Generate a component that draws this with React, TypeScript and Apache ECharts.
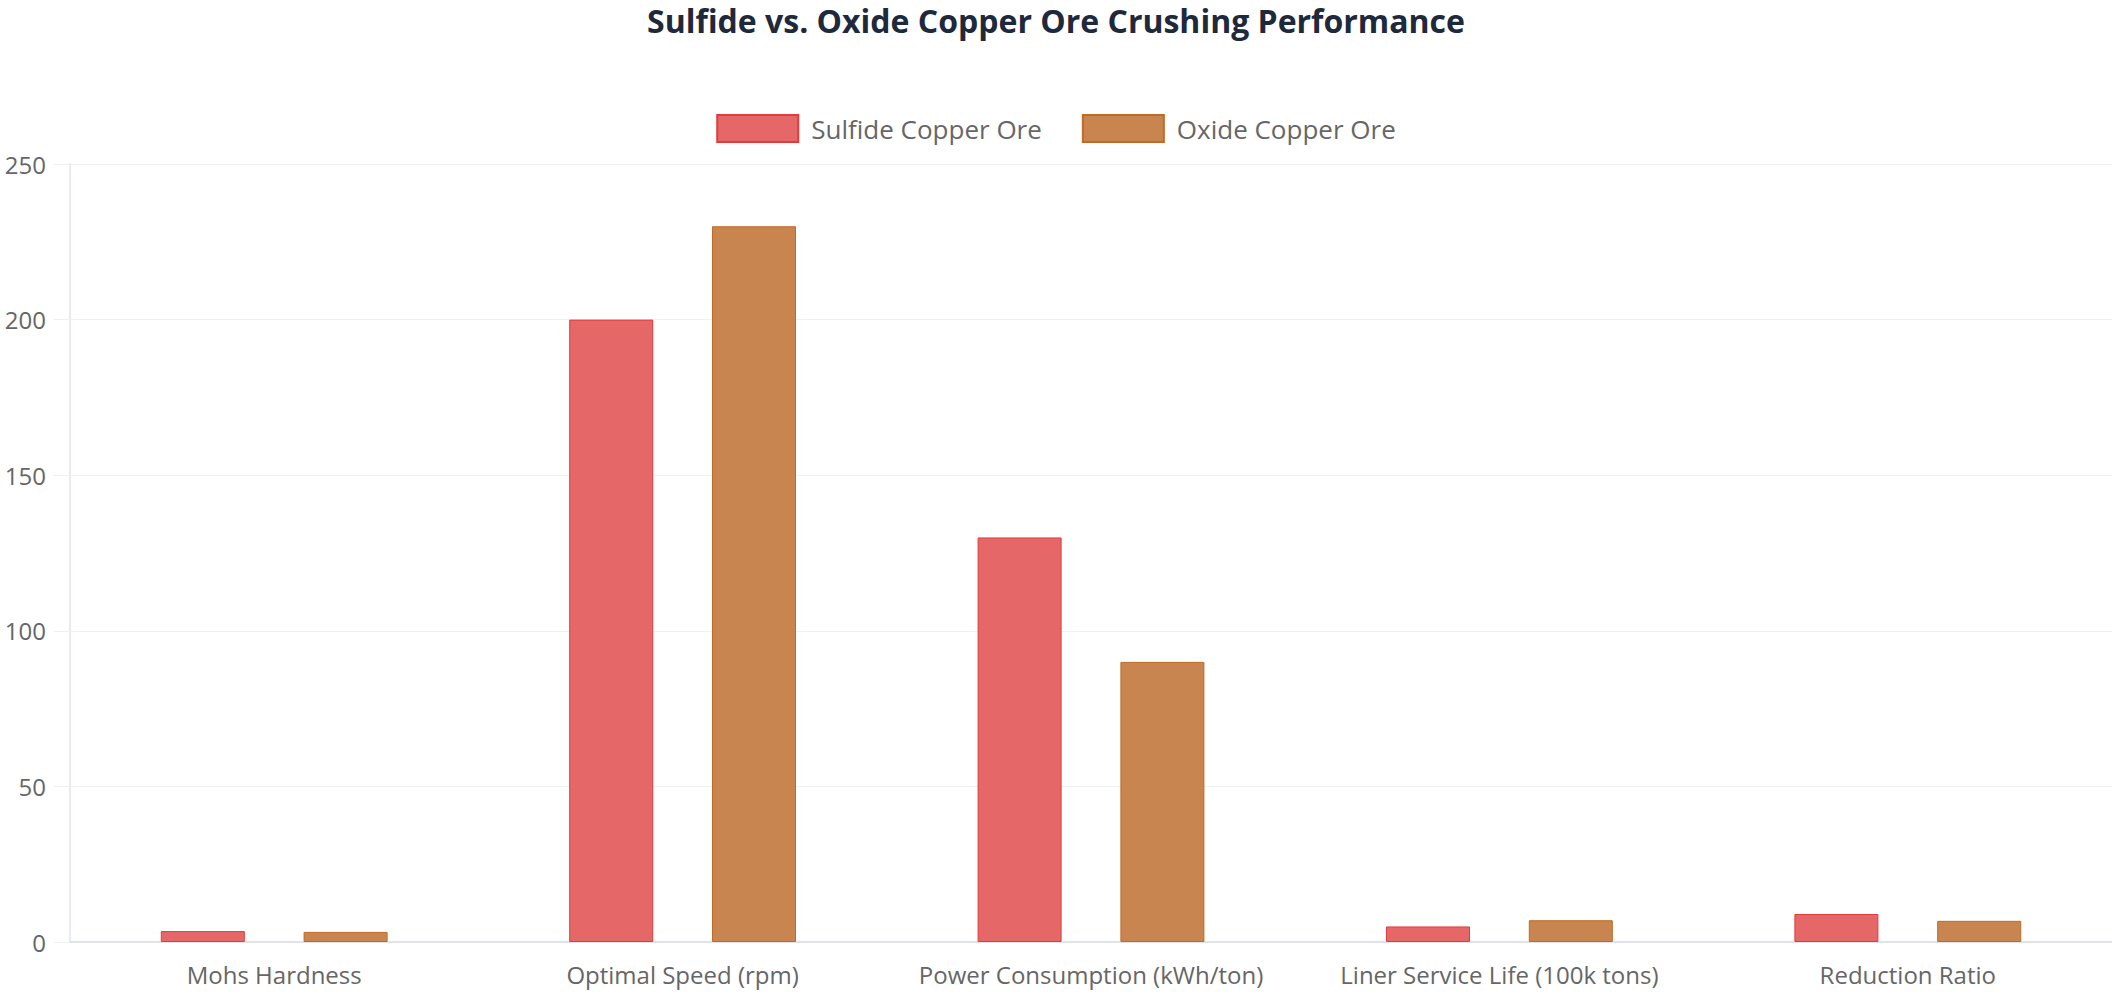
import React, { useEffect, useRef } from 'react';
import * as echarts from 'echarts';

// chart data
const categories = [
    'Mohs Hardness',
    'Optimal Speed (rpm)',
    'Power Consumption (kWh/ton)',
    'Liner Service Life (100k tons)',
    'Reduction Ratio',
];
const seriesNames = ['Sulfide Copper Ore', 'Oxide Copper Ore'];
const sulfideValues = [3.5, 200, 130, 5, 9];
const oxideValues = [3.25, 230, 90, 7, 6.8];
const yTicks = [0, 50, 100, 150, 200, 250];

const FONT = '"Open Sans", "Noto Sans", sans-serif';

const App: React.FC = () => {
    const chartRef = useRef<HTMLDivElement>(null);

    useEffect(() => {
        document.body.style.margin = '0';
        if (!chartRef.current) return;

        const chart = echarts.init(chartRef.current, undefined, { renderer: 'svg' });

        const option = {
            animation: false,
            textStyle: { fontFamily: FONT },
            title: {
                text: 'Sulfide vs. Oxide Copper Ore Crushing Performance',
                left: 'center',
                top: 4,
                padding: 0,
                textStyle: {
                    fontSize: 32,
                    fontWeight: 'bold',
                    color: '#1e293b',
                    fontFamily: FONT
                }
            },
            legend: {
                data: seriesNames,
                left: 'center',
                top: 109,
                icon: 'rect',
                itemWidth: 81,
                itemHeight: 27,
                itemGap: 40,
                textStyle: {
                    fontSize: 26,
                    color: '#666',
                    padding: [0, 0, 0, 8]
                }
            },
            grid: {
                left: 70,
                right: 0,
                top: 164,
                bottom: 58,
                containLabel: false
            },
            xAxis: {
                type: 'category',
                data: categories,
                axisLine: { lineStyle: { color: '#e0e4ea', width: 2 } },
                axisTick: { show: false },
                axisLabel: {
                    interval: 0,
                    fontSize: 24,
                    color: '#666',
                    margin: 20
                }
            },
            yAxis: {
                type: 'value',
                min: yTicks[0],
                max: yTicks[yTicks.length - 1],
                interval: 50,
                axisLine: { show: true, lineStyle: { color: '#e8eaef', width: 2 } },
                axisTick: { show: true, length: 16, lineStyle: { color: '#eef0f4' } },
                axisLabel: { fontSize: 24, color: '#666', margin: 24 },
                splitLine: { lineStyle: { color: '#eef0f4', width: 1 } }
            },
            series: [
                {
                    name: seriesNames[0],
                    type: 'bar',
                    data: sulfideValues,
                    barWidth: 84,
                    barGap: '70%',
                    itemStyle: {
                        color: '#e66767',
                        borderColor: '#e23b3b',
                        borderWidth: 1
                    }
                },
                {
                    name: seriesNames[1],
                    type: 'bar',
                    data: oxideValues,
                    barWidth: 84,
                    itemStyle: {
                        color: '#c9854f',
                        borderColor: '#c06a24',
                        borderWidth: 1
                    }
                }
            ]
        };

        chart.setOption(option);

        const handleResize = () => chart.resize();
        window.addEventListener('resize', handleResize);

        return () => {
            window.removeEventListener('resize', handleResize);
            chart.dispose();
        };
    }, []);

    return <div ref={chartRef} style={{ width: 2112, height: 1000 }} />;
};

export default App;
